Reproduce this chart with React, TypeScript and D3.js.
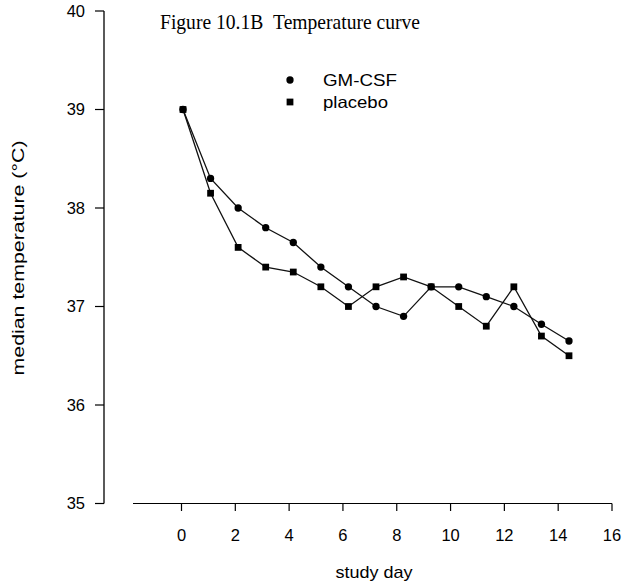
import React from "react";
import * as d3 from "d3";

const days = [0, 1, 2, 3, 4, 5, 6, 7, 8, 9, 10, 11, 12, 13, 14];
const gmcsf = [39.0, 38.3, 38.0, 37.8, 37.65, 37.4, 37.2, 37.0, 36.9, 37.2, 37.2, 37.1, 37.0, 36.82, 36.65];
const placebo = [39.0, 38.15, 37.6, 37.4, 37.35, 37.2, 37.0, 37.2, 37.3, 37.2, 37.0, 36.8, 37.2, 36.7, 36.5];
const xTicks = [0, 2, 4, 6, 8, 10, 12, 14, 16];
const yTicks = [35, 36, 37, 38, 39, 40];
const title = "Figure 10.1B\u00a0\u00a0Temperature curve";
const xLabel = "study day";
const yLabel = "median temperature (\u00b0C)";
const seriesNames = ["GM-CSF", "placebo"];

const W = 635;
const H = 584;
const sans = "'Liberation Sans', Arial, sans-serif";
const serif = "'Liberation Serif', 'Times New Roman', serif";

export default function App() {
  // axis scale (as printed) and data scale (plotted marks, slightly offset in the scan)
  const xAxis = d3.scaleLinear().domain([0, 16]).range([181.5, 612]);
  const xData = d3.scaleLinear().domain([0, 14]).range([183, 569]);
  const y = d3.scaleLinear().domain([35, 40]).range([503.5, 11]);
  const axisStart = 133;
  const yAxisX = 104;

  const line = d3
    .line<number>()
    .x((_, i) => xData(days[i]))
    .y((v) => y(v));

  const circlePath = d3.symbol().type(d3.symbolCircle).size(42)() as string;
  const squarePath = d3.symbol().type(d3.symbolSquare).size(46)() as string;

  return (
    <svg
      width={W}
      height={H}
      style={{ position: "absolute", left: 0, top: 0, background: "#fff" }}
    >
      <rect x={0} y={0} width={W} height={H} fill="#fff" />
      {/* title */}
      <text x={160} y={29} fontFamily={serif} fontSize={21.5} fill="#000" textLength={260} lengthAdjust="spacingAndGlyphs">
        {title}
      </text>

      {/* y axis */}
      <line x1={yAxisX} x2={yAxisX} y1={y(40)} y2={y(35)} stroke="#000" strokeWidth={1.3} />
      {yTicks.map((t) => (
        <g key={t}>
          <line x1={yAxisX - 9} x2={yAxisX} y1={y(t)} y2={y(t)} stroke="#000" strokeWidth={1.2} />
          <text
            x={85}
            y={y(t)}
            dy="0.36em"
            textAnchor="end"
            fontFamily={sans}
            fontSize={16.5}
            fill="#000"
          >
            {t}
          </text>
        </g>
      ))}
      <text
        transform={`translate(24, 258) rotate(-90)`}
        textAnchor="middle"
        fontFamily={sans}
        fontSize={16}
        textLength={235}
        lengthAdjust="spacingAndGlyphs"
        fill="#000"
      >
        {yLabel}
      </text>

      {/* x axis */}
      <line x1={axisStart} x2={xAxis(16)} y1={503.5} y2={503.5} stroke="#000" strokeWidth={1.2} />
      {xTicks.map((t) => (
        <g key={t}>
          <line x1={xAxis(t)} x2={xAxis(t)} y1={503.5} y2={511} stroke="#000" strokeWidth={1.2} />
          <text
            x={xAxis(t)}
            y={541}
            textAnchor="middle"
            fontFamily={sans}
            fontSize={16.5}
            fill="#000"
          >
            {t}
          </text>
        </g>
      ))}
      <text x={374} y={578} textAnchor="middle" fontFamily={sans} fontSize={17} textLength={77} lengthAdjust="spacingAndGlyphs" fill="#000">
        {xLabel}
      </text>

      {/* series lines */}
      <path d={line(gmcsf) as string} fill="none" stroke="#111" strokeWidth={1.3} />
      <path d={line(placebo) as string} fill="none" stroke="#111" strokeWidth={1.3} />

      {/* markers */}
      {gmcsf.map((v, i) => (
        <path key={"g" + i} d={circlePath} transform={`translate(${xData(days[i])},${y(v)})`} fill="#000" />
      ))}
      {placebo.map((v, i) => (
        <path key={"p" + i} d={squarePath} transform={`translate(${xData(days[i])},${y(v)})`} fill="#000" />
      ))}

      {/* legend */}
      <path d={circlePath} transform="translate(290,80)" fill="#000" />
      <text x={323} y={80} dy="0.36em" fontFamily={sans} fontSize={16.5} textLength={74} lengthAdjust="spacingAndGlyphs" fill="#000">
        {seriesNames[0]}
      </text>
      <path d={squarePath} transform="translate(290,102)" fill="#000" />
      <text x={323} y={102} dy="0.36em" fontFamily={sans} fontSize={16.5} textLength={65} lengthAdjust="spacingAndGlyphs" fill="#000">
        {seriesNames[1]}
      </text>
    </svg>
  );
}
